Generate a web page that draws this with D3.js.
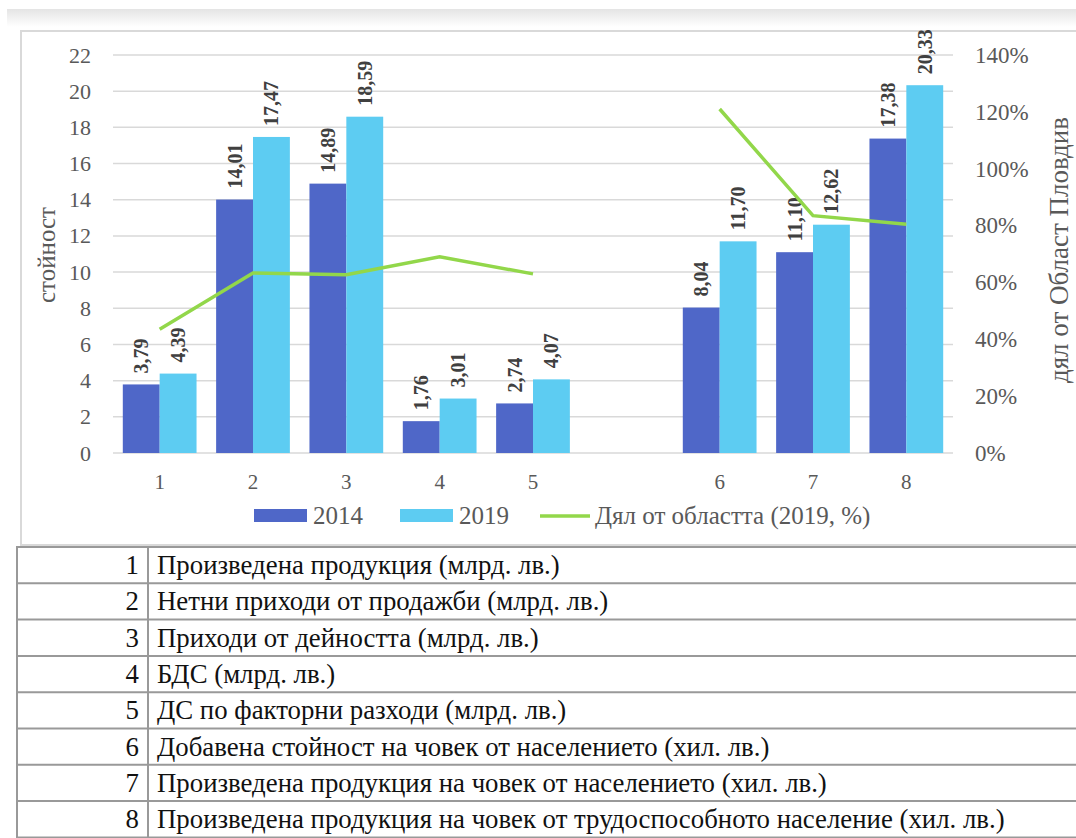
<!DOCTYPE html>
<html>
<head>
<meta charset="utf-8">
<script src="https://cdn.jsdelivr.net/npm/d3@7"></script>
<style>
  body { margin: 0; background: #fff; }
  svg text { font-family: 'Liberation Serif', 'Times New Roman', Tinos; }
</style>
</head>
<body>
<script>
// category slots, "" is the empty gap between 5 and 6
var slots = ["1", "2", "3", "4", "5", "", "6", "7", "8"];
var series = ["2014", "2019"];
var values2014 = [3.79, 14.01, 14.89, 1.76, 2.74, null, 8.04, 11.10, 17.38];
var values2019 = [4.39, 17.47, 18.59, 3.01, 4.07, null, 11.70, 12.62, 20.33];
var share2019 = [0.435, 0.633, 0.627, 0.690, 0.630, null, 1.21, 0.835, 0.805];
var leftTicks = [0, 2, 4, 6, 8, 10, 12, 14, 16, 18, 20, 22];
var rightTicks = [0, 0.2, 0.4, 0.6, 0.8, 1.0, 1.2, 1.4];
var rowNums = ["1", "2", "3", "4", "5", "6", "7", "8"];
var rowTexts = [
  "Произведена продукция (млрд. лв.)",
  "Нетни приходи от продажби (млрд. лв.)",
  "Приходи от дейността (млрд. лв.)",
  "БДС (млрд. лв.)",
  "ДС по факторни разходи (млрд. лв.)",
  "Добавена стойност на човек от населението (хил. лв.)",
  "Произведена продукция на човек от населението (хил. лв.)",
  "Произведена продукция на човек от трудоспособното население (хил. лв.)"
];

var colors = { "2014": "#4F67C8", "2019": "#5DCCF2" };
var lineColor = "#92D74A";
var grey = "#595959";
var fmt = function(v) { return v.toFixed(2).replace(".", ","); };

var W = 1076, H = 838;
var svg = d3.select("body").append("svg").attr("width", W).attr("height", H);

// top shadow band
var defs = svg.append("defs");
var grad = defs.append("linearGradient").attr("id", "shade").attr("x1", 0).attr("x2", 0).attr("y1", 0).attr("y2", 1);
grad.append("stop").attr("offset", "0%").attr("stop-color", "#e4e4e4");
grad.append("stop").attr("offset", "100%").attr("stop-color", "#ffffff");
svg.append("rect").attr("x", 7).attr("y", 9).attr("width", W - 7).attr("height", 18).attr("fill", "url(#shade)");

// chart frame
svg.append("rect").attr("x", 21).attr("y", 31).attr("width", W - 21 + 2).attr("height", 514)
  .attr("fill", "none").attr("stroke", "#d9d9d9").attr("stroke-width", 2);

var x = d3.scaleBand().domain(slots).range([113, 953]);
var xs = d3.scaleBand().domain(series).range([x.bandwidth() * 0.105, x.bandwidth() * 0.895]);
var y = d3.scaleLinear().domain([0, 22]).range([453, 55]);
var y2 = d3.scaleLinear().domain([0, 1.4]).range([453, 55]);

// gridlines
svg.append("g").selectAll("line").data(leftTicks).join("line")
  .attr("x1", 113).attr("x2", 953)
  .attr("y1", function(d) { return y(d); }).attr("y2", function(d) { return y(d); })
  .attr("stroke", "#d9d9d9").attr("stroke-width", 1.5);

function styleAxis(g, size) {
  g.attr("font-family", null);
  g.select(".domain").remove();
  g.selectAll("text").attr("font-size", size).attr("fill", grey);
}

// left axis
svg.append("g").attr("transform", "translate(91,0)")
  .call(d3.axisLeft(y).tickValues(leftTicks).tickSize(0).tickPadding(0))
  .call(styleAxis, 22);

// right axis
svg.append("g").attr("transform", "translate(975,0)")
  .call(d3.axisRight(y2).tickValues(rightTicks).tickSize(0).tickPadding(0).tickFormat(d3.format(".0%")))
  .call(styleAxis, 23);

// x axis labels
svg.append("g").attr("transform", "translate(0,474)")
  .call(d3.axisBottom(x).tickSize(0).tickPadding(0))
  .call(styleAxis, 21);

// axis titles
svg.append("text").attr("transform", "translate(55,255) rotate(-90)")
  .attr("text-anchor", "middle").attr("font-size", 25).attr("fill", grey).text("стойност");
svg.append("text").attr("transform", "translate(1068,250) rotate(-90)")
  .attr("text-anchor", "middle").attr("font-size", 27).attr("fill", grey).text("дял от Област Пловдив");

// bars
var barData = [];
slots.forEach(function(s, i) {
  if (values2014[i] != null) barData.push({ slot: s, key: "2014", v: values2014[i] });
  if (values2019[i] != null) barData.push({ slot: s, key: "2019", v: values2019[i] });
});

svg.append("g").selectAll("rect").data(barData).join("rect")
  .attr("x", function(d) { return x(d.slot) + xs(d.key); })
  .attr("y", function(d) { return y(d.v); })
  .attr("width", xs.bandwidth())
  .attr("height", function(d) { return y(0) - y(d.v); })
  .attr("fill", function(d) { return colors[d.key]; });

// data labels
svg.append("g").selectAll("text").data(barData).join("text")
  .attr("transform", function(d) {
    var cx = x(d.slot) + xs(d.key) + xs.bandwidth() / 2 + 7;
    return "translate(" + cx + "," + (y(d.v) - 11) + ") rotate(-90)";
  })
  .attr("font-size", 20).attr("font-weight", "bold").attr("fill", "#404040")
  .text(function(d) { return fmt(d.v); });

// share line
var lineData = slots.map(function(s, i) { return { slot: s, v: share2019[i] }; });
var line = d3.line()
  .defined(function(d) { return d.v != null; })
  .x(function(d) { return x(d.slot) + x.bandwidth() / 2; })
  .y(function(d) { return y2(d.v); });
svg.append("path").datum(lineData).attr("d", line)
  .attr("fill", "none").attr("stroke", lineColor).attr("stroke-width", 3.5);

// legend
var lg = svg.append("g").attr("font-size", 25).attr("fill", grey);
lg.append("rect").attr("x", 254).attr("y", 509).attr("width", 53).attr("height", 13).attr("fill", colors["2014"]);
lg.append("text").attr("x", 313).attr("y", 524).text("2014");
lg.append("rect").attr("x", 400).attr("y", 509).attr("width", 53).attr("height", 13).attr("fill", colors["2019"]);
lg.append("text").attr("x", 459).attr("y", 524).text("2019");
lg.append("line").attr("x1", 540).attr("x2", 590).attr("y1", 516).attr("y2", 516)
  .attr("stroke", lineColor).attr("stroke-width", 3.5);
lg.append("text").attr("x", 595).attr("y", 524).text("Дял от областта (2019, %)");

// table
var rowY = d3.scaleBand().domain(rowNums).range([547, 547 + 8 * 36.3]);
var tbl = svg.append("g");
tbl.selectAll("line.h").data(d3.range(9)).join("line")
  .attr("x1", 16).attr("x2", W)
  .attr("y1", function(i) { return 547 + i * 36.3; })
  .attr("y2", function(i) { return 547 + i * 36.3; })
  .attr("stroke", "#999").attr("stroke-width", 2);
tbl.append("line").attr("x1", 17).attr("x2", 17).attr("y1", 547).attr("y2", H)
  .attr("stroke", "#999").attr("stroke-width", 2);
tbl.append("line").attr("x1", 148).attr("x2", 148).attr("y1", 547).attr("y2", H)
  .attr("stroke", "#999").attr("stroke-width", 2);
tbl.selectAll("text.n").data(rowNums).join("text")
  .attr("x", 139).attr("y", function(d) { return rowY(d) + rowY.bandwidth() / 2 + 9; })
  .attr("text-anchor", "end").attr("font-size", 26.8).attr("fill", "#111")
  .text(function(d) { return d; });
tbl.selectAll("text.t").data(rowTexts).join("text")
  .attr("x", 157).attr("y", function(d, i) { return rowY(rowNums[i]) + rowY.bandwidth() / 2 + 9; })
  .attr("font-size", 26.8).attr("fill", "#111")
  .text(function(d) { return d; });
</script>
</body>
</html>
